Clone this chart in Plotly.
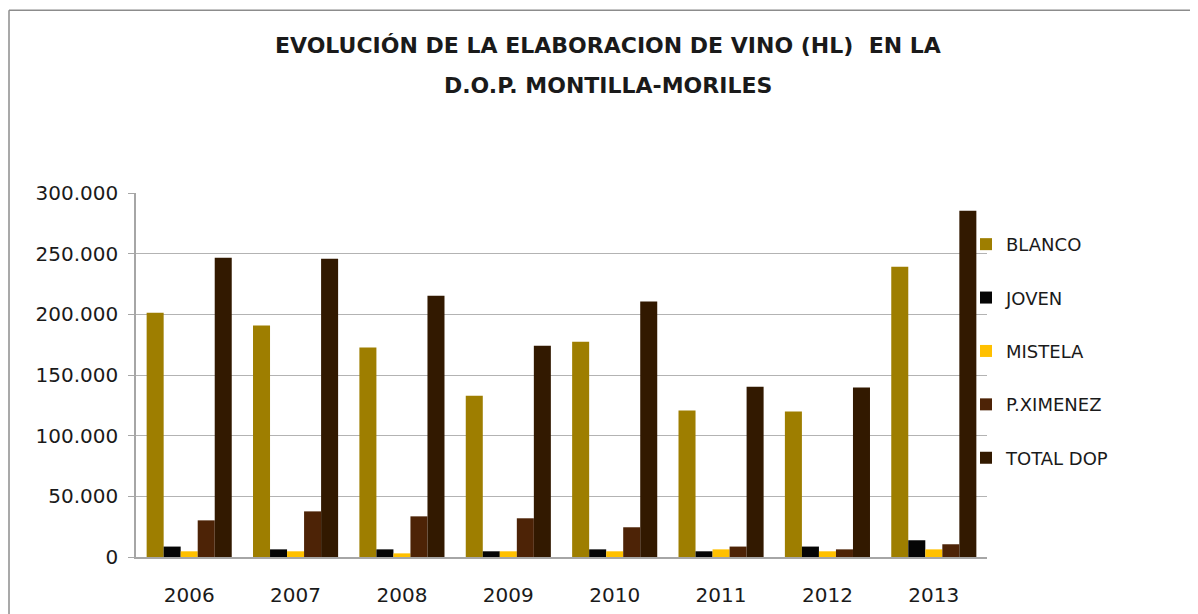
import plotly.graph_objects as go

years = ["2006", "2007", "2008", "2009", "2010", "2011", "2012", "2013"]
blanco = [201400, 190700, 172600, 133000, 177500, 120700, 119900, 239300]
joven = [8600, 6300, 6300, 4700, 6300, 4700, 8600, 13800]
mistela = [4700, 4700, 3000, 4700, 4700, 6300, 4700, 6300]
pximenez = [30200, 37600, 33500, 31900, 24500, 8600, 6300, 10500]
total_dop = [246700, 245900, 215400, 174200, 210500, 140400, 139600, 285400]

series = [
    ("BLANCO", blanco, "#9e7e00"),
    ("JOVEN", joven, "#050505"),
    ("MISTELA", mistela, "#ffc000"),
    ("P.XIMENEZ", pximenez, "#4d2306"),
    ("TOTAL DOP", total_dop, "#321900"),
]

OFF = 8  # page body margin
W, H = 1198 - OFF, 614 - OFF
# plot area in page pixels: left 136, right 987, top 193, bottom 557.5
ML = 136 - OFF
MR = W - (987 - OFF)
MT = 193 - OFF
MB = H - (557.5 - OFF)
PW = W - ML - MR
PH = H - MT - MB


def px_x(px):
    return (px - OFF - ML) / PW


def px_y(py):
    return (H - MB - (py - OFF)) / PH


fig = go.Figure()
for i, (name, vals, col) in enumerate(series):
    fig.add_trace(go.Bar(name=name, x=years, y=vals, marker_color=col,
                         marker_line_width=0, legendgroup=f"g{i}"))

FONT = "DejaVu Sans"
fig.update_layout(
    width=W, height=H,
    margin=dict(l=ML, r=MR, t=MT, b=MB, autoexpand=False),
    paper_bgcolor="white", plot_bgcolor="white",
    barmode="group", bargap=0.2, bargroupgap=0,
    separators=",.",
    font=dict(family=FONT, color="#1a1a1a"),
    showlegend=True,
    legend=dict(x=px_x(966), xanchor="left", y=px_y(226), yanchor="top",
                font=dict(family=FONT, size=18, color="#1a1a1a"),
                traceorder="grouped", tracegroupgap=27,
                bgcolor="rgba(0,0,0,0)", itemwidth=30),
    xaxis=dict(showgrid=False, showline=True, linecolor="#a6a6a6", linewidth=1.5,
               ticks="", tickfont=dict(size=20, family=FONT, color="#1a1a1a"),
               ticklabelstandoff=19, fixedrange=True),
    yaxis=dict(range=[0, 300000], tickvals=[0, 50000, 100000, 150000, 200000, 250000, 300000],
               tickformat=",d", showgrid=True, gridcolor="#b3b3b3", gridwidth=1,
               showline=True, linecolor="#a6a6a6", linewidth=1.5,
               ticks="outside", ticklen=6, tickcolor="#a6a6a6",
               tickfont=dict(size=20, family=FONT, color="#1a1a1a"),
               ticklabelstandoff=6, zeroline=False, fixedrange=True),
    shapes=[
        dict(type="rect", xref="paper", yref="paper", x0=px_x(922), x1=px_x(1010),
             y0=px_y(470), y1=px_y(222), fillcolor="white", line_width=0, layer="between"),
        dict(type="line", xref="paper", yref="paper", x0=px_x(9), x1=px_x(9),
             y0=px_y(10), y1=px_y(620), line=dict(color="#8c8c8c", width=1.5)),
        dict(type="line", xref="paper", yref="paper", x0=px_x(9), x1=px_x(1205),
             y0=px_y(10), y1=px_y(10), line=dict(color="#8c8c8c", width=1.5)),
    ],
    annotations=[
        dict(text="<b>EVOLUCIÓN DE LA ELABORACION DE VINO (HL)&nbsp; EN LA</b>",
             xref="paper", yref="paper", x=px_x(608), y=px_y(45), xanchor="center",
             yanchor="middle", showarrow=False,
             font=dict(family=FONT, size=22, color="#1a1a1a")),
        dict(text="<b>D.O.P. MONTILLA-MORILES</b>",
             xref="paper", yref="paper", x=px_x(608), y=px_y(85), xanchor="center",
             yanchor="middle", showarrow=False,
             font=dict(family=FONT, size=22, color="#1a1a1a")),
    ],
)

fig.write_html("out.html")
